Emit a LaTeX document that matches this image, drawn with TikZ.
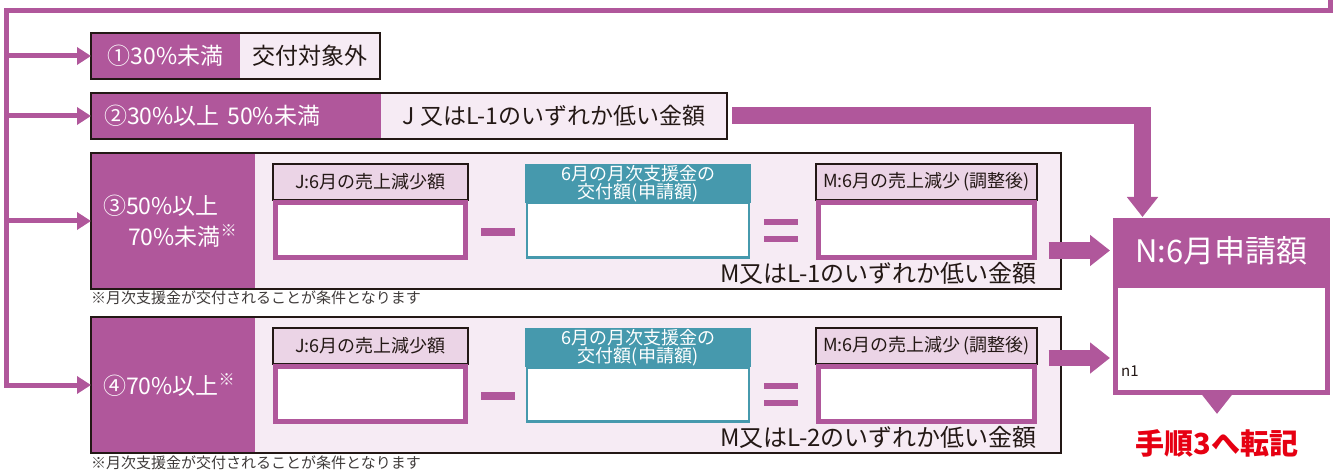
\documentclass[tikz,border=0pt]{standalone}
\usepackage{fontspec}
\setmainfont{Noto Sans CJK JP}
\usetikzlibrary{arrows.meta}
\definecolor{purp}{HTML}{B0579B}
\definecolor{pale}{HTML}{F6EBF4}
\definecolor{hdr}{HTML}{EBD4E6}
\definecolor{teal}{HTML}{4699AD}
\definecolor{framec}{HTML}{231815}
\definecolor{notec}{HTML}{3E3A39}
\definecolor{redc}{HTML}{E60012}
\tikzset{
  cell/.style={anchor=north west, inner sep=0pt, outer sep=0pt},
  tagcell/.style={cell, fill=purp, text=white, font=\fontsize{23}{31}\selectfont},
  valcell/.style={cell, fill=pale, text=framec, font=\fontsize{23}{23}\selectfont},
  frameline/.style={draw=framec, line width=2.5pt},
  hdrbox/.style={cell, draw=framec, line width=2pt, fill=hdr, text=framec,
    minimum width=195pt, minimum height=36pt, font=\fontsize{18}{18}\selectfont},
  valbox/.style={anchor=north, inner sep=0pt, draw=purp, line width=5pt, fill=white,
    minimum width=190pt, minimum height=55pt},
  tealhdr/.style={cell, draw=teal, line width=2pt, fill=teal, text=white, align=center,
    minimum width=224pt, minimum height=37pt, font=\fontsize{18}{15.5}\selectfont},
  tealbox/.style={anchor=north, inner sep=0pt, draw=teal, line width=2.5pt, fill=white,
    minimum width=222pt, minimum height=54pt},
  lowtext/.style={anchor=east, inner sep=0pt, text=framec, font=\fontsize{24}{24}\selectfont},
  note/.style={anchor=west, inner sep=0pt, text=notec, font=\fontsize{15}{15}\selectfont},
  thinarr/.style={draw=purp, line width=5pt, line join=miter, -{Triangle[length=14pt,width=17pt]}},
  bigarr/.style={draw=purp, line width=16pt, line join=miter, -{Triangle[length=20pt,width=30pt]}},
  opsign/.style={fill=purp}
}
\begin{document}
\begin{tikzpicture}[x=1pt,y=-1pt]
	\useasboundingbox (0,0) rectangle (1336,473);
	\coordinate (trunk) at (6.5,10.5);
	% row 1
	\node[tagcell, minimum width=149pt, minimum height=46pt] (r1tag) at (91,33) {①30\%未満};
	\node[valcell, minimum width=140pt, minimum height=46pt] (r1val) at (r1tag.north east) {交付対象外};
	\draw[frameline] (r1tag.north west) rectangle (r1val.south east);
	% row 2
	\node[tagcell, minimum width=290pt, minimum height=46pt, text width=264pt, align=left] (r2tag) at (91,93) {②30\%以上 50\%未満};
	\node[valcell, minimum width=346pt, minimum height=46pt] (r2val) at (r2tag.north east) {J 又はL-1のいずれか低い金額};
	\draw[frameline] (r2tag.north west) rectangle (r2val.south east);
	% row 3
	\node[tagcell, minimum width=164pt, minimum height=136pt, text width=140pt, align=left] (r3tag) at (91,153) {③50\%以上\\\hspace*{25pt}70\%未満\textsuperscript{※}};
	\node[valcell, minimum width=806pt, minimum height=136pt] (r3val) at (r3tag.north east) {};
	\draw[frameline] (r3tag.north west) rectangle (r3val.south east);
	\node[note] (fn3) at (91,298) {※月次支援金が交付されることが条件となります};
	\node[hdrbox] (J3h) at (273,164) {J:6月の売上減少額};
	\node[valbox] (J3) at (J3h.south) {};
	\fill[opsign] (481,228) rectangle (515,236);
	\node[tealhdr] (T3h) at (526,165) {6月の月次支援金の\\交付額(申請額)};
	\node[tealbox] (T3) at (T3h.south) {};
	\fill[opsign] (764,219) rectangle (798,225);
	\fill[opsign] (764,236) rectangle (798,242);
	\node[hdrbox, minimum width=221pt] (M3h) at (816,164) {M:6月の売上減少\,(調整後)};
	\node[valbox, minimum width=216pt] (M3) at (M3h.south) {};
	\node[lowtext] (M3txt) at (1037,273) {M又はL-1のいずれか低い金額};
	% row 4
	\node[tagcell, minimum width=164pt, minimum height=136pt, text width=140pt, align=left] (r4tag) at (91,317) {④70\%以上\textsuperscript{※}};
	\node[valcell, minimum width=806pt, minimum height=136pt] (r4val) at (r4tag.north east) {};
	\draw[frameline] (r4tag.north west) rectangle (r4val.south east);
	\node[note] (fn4) at (91,463) {※月次支援金が交付されることが条件となります};
	\node[hdrbox] (J4h) at (273,328) {J:6月の売上減少額};
	\node[valbox] (J4) at (J4h.south) {};
	\fill[opsign] (481,392) rectangle (515,400);
	\node[tealhdr] (T4h) at (526,329) {6月の月次支援金の\\交付額(申請額)};
	\node[tealbox] (T4) at (T4h.south) {};
	\fill[opsign] (764,383) rectangle (798,389);
	\fill[opsign] (764,400) rectangle (798,406);
	\node[hdrbox, minimum width=221pt] (M4h) at (816,328) {M:6月の売上減少\,(調整後)};
	\node[valbox, minimum width=216pt] (M4) at (M4h.south) {};
	\node[lowtext] (M4txt) at (1037,437) {M又はL-2のいずれか低い金額};
	% N box
	\node[cell, fill=purp, text=white, minimum width=217pt, minimum height=65pt, font=\fontsize{31}{31}\selectfont] (Nh) at (1113,218) {N:6月申請額};
	\node[anchor=north, inner sep=0pt, draw=purp, line width=5pt, fill=white, minimum width=212pt, minimum height=107pt] (Nv) at (Nh.south) {};
	\node[anchor=west, inner sep=0pt, text=framec, font=\fontsize{15}{15}\selectfont] (n1) at (1121,371) {n1};
	\node[inner sep=0pt, text=redc, font=\bfseries\fontsize{29}{29}\selectfont] (todo) at (1217,443) {手順3へ転記};
	% connectors
	\draw[thinarr] (1330.5,0) |- (trunk) |- (r4tag.west);
	\draw[thinarr] (trunk |- r1tag.west) -- (r1tag.west);
	\draw[thinarr] (trunk |- r2tag.west) -- (r2tag.west);
	\draw[thinarr] (trunk |- r3tag.west) -- (r3tag.west);
	\coordinate (nin) at (1142.5,217);
	\coordinate (n4in) at (1110,358);
	\draw[bigarr, line width=17pt] ([xshift=5pt]r2val.east) -| (nin);
	\draw[bigarr] ([xshift=11.5pt]Nh.west -| M3.east) -- ([xshift=-3pt]Nh.west);
	\draw[bigarr] ([xshift=11.5pt]n4in -| M4.east) -- (n4in);
	\draw[bigarr, line width=17pt] (Nv.south -| todo.north) -- ([yshift=15pt]todo.north);
\end{tikzpicture}
\end{document}
